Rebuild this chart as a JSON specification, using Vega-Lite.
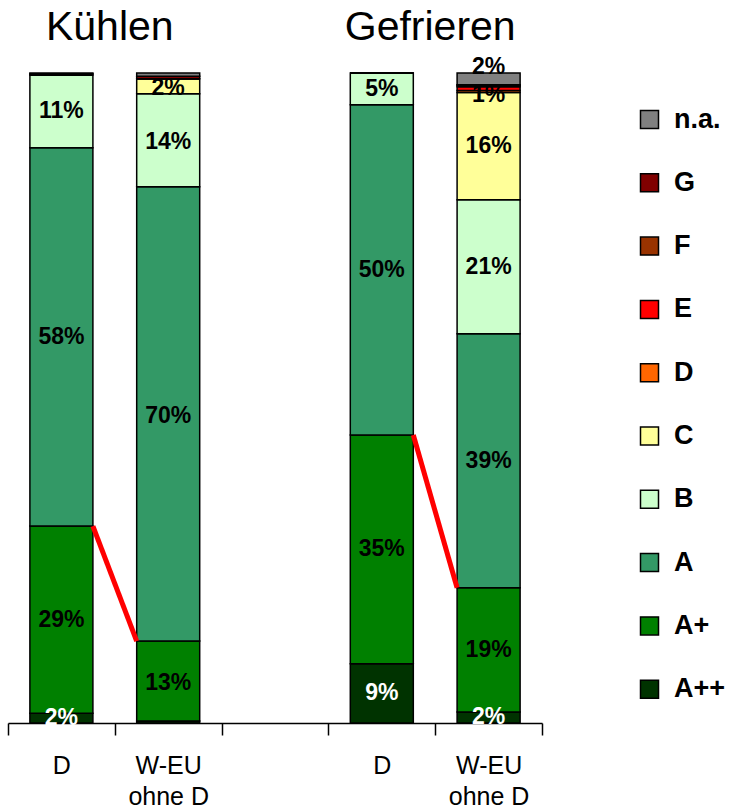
{
  "$schema": "https://vega.github.io/schema/vega-lite/v6.json",
  "autosize": {"type": "none"},
  "padding": {"left": 8, "top": 73, "right": 189, "bottom": 88},
  "width": 534,
  "height": 650,
  "config": {"view": {"stroke": null}, "font": "Liberation Sans"},
  "datasets": {
    "shares": [
      {"bar": "K_D", "cls": "A++", "v": 1.5, "rank": 1, "label": "2%"},
      {"bar": "K_D", "cls": "A+", "v": 28.8, "rank": 2, "label": "29%"},
      {"bar": "K_D", "cls": "A", "v": 58.2, "rank": 3, "label": "58%"},
      {"bar": "K_D", "cls": "B", "v": 11.2, "rank": 4, "label": "11%"},
      {"bar": "K_D", "cls": "C", "v": 0, "rank": 5, "label": ""},
      {"bar": "K_D", "cls": "D", "v": 0, "rank": 6, "label": ""},
      {"bar": "K_D", "cls": "E", "v": 0, "rank": 7, "label": ""},
      {"bar": "K_D", "cls": "F", "v": 0, "rank": 8, "label": ""},
      {"bar": "K_D", "cls": "G", "v": 0.2, "rank": 9, "label": ""},
      {"bar": "K_D", "cls": "n.a.", "v": 0.1, "rank": 10, "label": ""},
      {"bar": "K_W", "cls": "A++", "v": 0.3, "rank": 1, "label": ""},
      {"bar": "K_W", "cls": "A+", "v": 12.3, "rank": 2, "label": "13%"},
      {"bar": "K_W", "cls": "A", "v": 69.9, "rank": 3, "label": "70%"},
      {"bar": "K_W", "cls": "B", "v": 14.3, "rank": 4, "label": "14%"},
      {"bar": "K_W", "cls": "C", "v": 2.3, "rank": 5, "label": "2%"},
      {"bar": "K_W", "cls": "D", "v": 0, "rank": 6, "label": ""},
      {"bar": "K_W", "cls": "E", "v": 0, "rank": 7, "label": ""},
      {"bar": "K_W", "cls": "F", "v": 0, "rank": 8, "label": ""},
      {"bar": "K_W", "cls": "G", "v": 0.4, "rank": 9, "label": ""},
      {"bar": "K_W", "cls": "n.a.", "v": 0.5, "rank": 10, "label": ""},
      {"bar": "G_D", "cls": "A++", "v": 9.1, "rank": 1, "label": "9%"},
      {"bar": "G_D", "cls": "A+", "v": 35.2, "rank": 2, "label": "35%"},
      {"bar": "G_D", "cls": "A", "v": 50.8, "rank": 3, "label": "50%"},
      {"bar": "G_D", "cls": "B", "v": 4.9, "rank": 4, "label": "5%"},
      {"bar": "G_D", "cls": "C", "v": 0, "rank": 5, "label": ""},
      {"bar": "G_D", "cls": "D", "v": 0, "rank": 6, "label": ""},
      {"bar": "G_D", "cls": "E", "v": 0, "rank": 7, "label": ""},
      {"bar": "G_D", "cls": "F", "v": 0, "rank": 8, "label": ""},
      {"bar": "G_D", "cls": "G", "v": 0, "rank": 9, "label": ""},
      {"bar": "G_D", "cls": "n.a.", "v": 0, "rank": 10, "label": ""},
      {"bar": "G_W", "cls": "A++", "v": 1.7, "rank": 1, "label": "2%"},
      {"bar": "G_W", "cls": "A+", "v": 19.1, "rank": 2, "label": "19%"},
      {"bar": "G_W", "cls": "A", "v": 39.1, "rank": 3, "label": "39%"},
      {"bar": "G_W", "cls": "B", "v": 20.6, "rank": 4, "label": "21%"},
      {"bar": "G_W", "cls": "C", "v": 16.5, "rank": 5, "label": "16%"},
      {"bar": "G_W", "cls": "D", "v": 0.3, "rank": 6, "label": ""},
      {"bar": "G_W", "cls": "E", "v": 0.6, "rank": 7, "label": "1%"},
      {"bar": "G_W", "cls": "F", "v": 0.2, "rank": 8, "label": ""},
      {"bar": "G_W", "cls": "G", "v": 0.1, "rank": 9, "label": ""},
      {"bar": "G_W", "cls": "n.a.", "v": 1.8, "rank": 10, "label": "2%"}
    ],
    "connectors": [
      {"from": "K_D", "to": "K_W", "yFrom": 30.3, "yTo": 12.6},
      {"from": "G_D", "to": "G_W", "yFrom": 44.3, "yTo": 20.8}
    ],
    "groups": [
      {"bar": "K_W", "title": "Kühlen", "pos": 107},
      {"bar": "G_W", "title": "Gefrieren", "pos": 107}
    ]
  },
  "encoding": {
    "x": {
      "field": "bar",
      "type": "nominal",
      "scale": {"domain": ["K_D", "K_W", "gap", "G_D", "G_W"], "paddingInner": 0, "paddingOuter": 0},
      "axis": {
        "title": null,
        "labelAngle": 0,
        "tickBand": "extent",
        "domainColor": "black",
        "domainWidth": 1.5,
        "tickColor": "black",
        "tickWidth": 1.5,
        "tickSize": 12,
        "labelFont": "Liberation Sans",
        "labelFontSize": 25,
        "labelColor": "black",
        "labelPadding": 18,
        "labelBaseline": "top",
        "labelLineHeight": 31,
        "labelExpr": "(datum.value === 'K_W' || datum.value === 'G_W') ? ['W-EU', 'ohne D'] : ((datum.value === 'K_D' || datum.value === 'G_D') ? 'D' : '')"
      }
    }
  },
  "layer": [
    {
      "data": {"name": "shares"},
      "mark": {"type": "bar", "stroke": "black", "strokeWidth": 1.5, "width": {"band": 0.59}},
      "encoding": {
        "y": {"field": "v", "type": "quantitative", "stack": "zero", "scale": {"domain": [0, 100], "nice": false}, "axis": null},
        "color": {
          "field": "cls",
          "type": "nominal",
          "scale": {
            "domain": ["n.a.", "G", "F", "E", "D", "C", "B", "A", "A+", "A++"],
            "range": ["#808080", "#800000", "#993300", "#FF0000", "#FF6600", "#FFFF99", "#CCFFCC", "#339966", "#008000", "#003300"]
          },
          "legend": {
            "title": null,
            "orient": "none",
            "legendX": 628,
            "legendY": 33,
            "symbolType": "square",
            "symbolSize": 324,
            "symbolStrokeColor": "black",
            "symbolStrokeWidth": 1.5,
            "labelFont": "Liberation Sans",
            "labelFontSize": 27,
            "labelFontWeight": "bold",
            "labelColor": "black",
            "labelOffset": 11,
            "rowPadding": 35.3,
            "padding": 0
          }
        },
        "order": {"field": "rank", "type": "quantitative"}
      }
    },
    {
      "data": {"name": "shares"},
      "transform": [{"filter": "datum.label !== '' && datum.cls !== 'n.a.' && datum.cls !== 'E'"}],
      "mark": {"type": "text", "font": "Liberation Sans", "fontSize": 23, "fontWeight": "bold", "baseline": "middle"},
      "encoding": {
        "y": {"field": "v", "type": "quantitative", "stack": "zero", "bandPosition": 0.5},
        "order": {"field": "rank", "type": "quantitative"},
        "text": {"field": "label"},
        "color": {"condition": {"test": "datum.cls === 'A++'", "value": "white"}, "value": "black"}
      }
    },
    {
      "data": {"name": "shares"},
      "transform": [
        {"stack": "v", "groupby": ["bar"], "sort": [{"field": "rank"}], "as": ["lo", "hi"]},
        {"filter": "datum.label !== '' && datum.cls === 'n.a.'"}
      ],
      "mark": {"type": "text", "font": "Liberation Sans", "fontSize": 23, "fontWeight": "bold", "baseline": "middle", "dy": -18},
      "encoding": {
        "y": {"field": "lo", "type": "quantitative"},
        "text": {"field": "label"},
        "color": {"value": "black"}
      }
    },
    {
      "data": {"name": "shares"},
      "transform": [
        {"stack": "v", "groupby": ["bar"], "sort": [{"field": "rank"}], "as": ["lo", "hi"]},
        {"filter": "datum.label !== '' && datum.cls === 'E'"}
      ],
      "mark": {"type": "text", "font": "Liberation Sans", "fontSize": 23, "fontWeight": "bold", "baseline": "middle", "dy": 4},
      "encoding": {
        "y": {"field": "lo", "type": "quantitative"},
        "text": {"field": "label"},
        "color": {"value": "black"}
      }
    },
    {
      "data": {"name": "connectors"},
      "mark": {"type": "rule", "color": "#FF0000", "strokeWidth": 5},
      "encoding": {
        "x": {"field": "from", "type": "nominal", "bandPosition": 0.795},
        "x2": {"field": "to", "bandPosition": 0.205},
        "y": {"field": "yFrom", "type": "quantitative"},
        "y2": {"field": "yTo"}
      }
    },
    {
      "data": {"name": "groups"},
      "mark": {"type": "text", "font": "Liberation Sans", "fontSize": 41, "baseline": "alphabetic", "align": "center", "dx": -5, "dy": 12},
      "encoding": {
        "x": {"field": "bar", "type": "nominal", "bandPosition": 0},
        "y": {"field": "pos", "type": "quantitative"},
        "text": {"field": "title"},
        "color": {"value": "black"}
      }
    }
  ]
}
